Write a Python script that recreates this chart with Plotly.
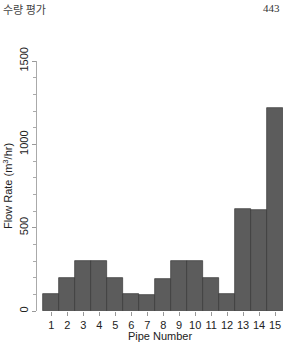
import plotly.graph_objects as go

pipes = list(range(1, 16))
flow = [100, 200, 300, 300, 200, 100, 98, 195, 300, 300, 200, 100, 614, 604, 1220]
y_ticks = [0, 500, 1000, 1500]

W, H = 283, 342
L, R, T, B = 37, 0, 61, 31
pw, ph = W - L - R, H - T - B

def px_x(p):
    return (p - L) / pw

def px_y(p):
    return (H - B - p) / ph

fig = go.Figure()
fig.add_trace(go.Bar(
    x=pipes, y=flow, width=1,
    marker=dict(color="#5c5c5c", line=dict(color="#363636", width=0.7)),
))

font = "Liberation Sans, Arial, sans-serif"
fig.update_layout(
    width=W, height=H,
    margin=dict(l=L, r=R, t=T, b=B),
    paper_bgcolor="white", plot_bgcolor="white",
    showlegend=False, bargap=0,
    font=dict(family=font, size=11, color="#222"),
    xaxis=dict(
        range=[0.1, 15.5], tickmode="array", tickvals=pipes,
        ticktext=[str(p) for p in pipes],
        ticks="outside", ticklen=4, tickcolor="#999", tickwidth=1,
        showline=False, showgrid=False, zeroline=False,
        tickfont=dict(size=11, color="#222"),
        title=dict(text="Pipe Number", font=dict(size=11, color="#222"), standoff=1),
    ),
    yaxis=dict(
        range=[0, 1500], tickmode="array", tickvals=y_ticks,
        ticktext=[str(v) for v in y_ticks], tickangle=-90,
        ticks="outside", ticklen=4, tickcolor="#999", tickwidth=1,
        minor=dict(dtick=100, ticks="outside", ticklen=3, tickcolor="#aaa", tickwidth=1),
        showline=True, linecolor="#aaa", linewidth=1,
        showgrid=False, zeroline=False,
        tickfont=dict(size=11, color="#222"),
        title=dict(text="Flow Rate (m<sup>3</sup>/hr)", font=dict(size=11, color="#222"), standoff=2),
    ),
)

fig.add_annotation(
    text="수량 평가", xref="paper", yref="paper",
    x=px_x(1), y=px_y(9), xanchor="left", yanchor="middle",
    showarrow=False, font=dict(family="Noto Sans CJK KR", size=11, color="#444"),
)
fig.add_annotation(
    text="443", xref="paper", yref="paper",
    x=px_x(282), y=px_y(8), xanchor="right", yanchor="middle",
    showarrow=False, font=dict(family="Liberation Serif, serif", size=11, color="#333"),
)

fig.write_html("out.html")
